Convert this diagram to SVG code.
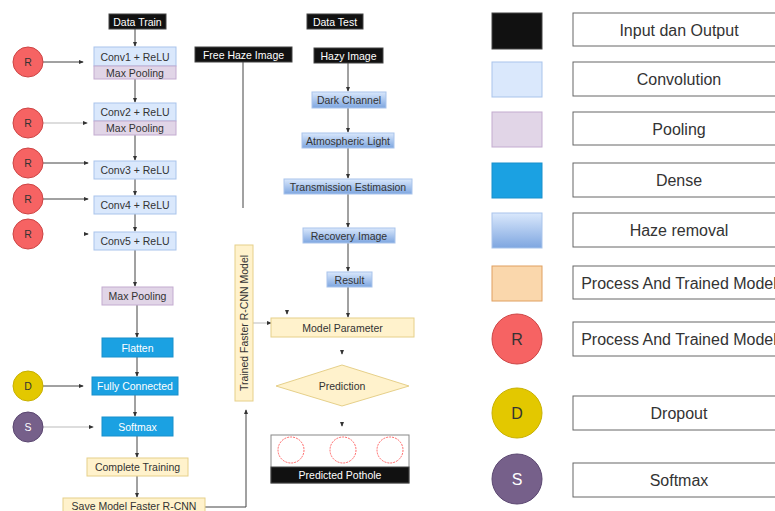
<svg xmlns="http://www.w3.org/2000/svg" width="775" height="511" viewBox="0 0 775 511">
<defs>
<linearGradient id="haze" x1="0" y1="0" x2="0" y2="1"><stop offset="0" stop-color="#dae8fc"/><stop offset="1" stop-color="#7ea6e0"/></linearGradient>
<marker id="ah" viewBox="0 0 6 6" refX="5" refY="3" markerWidth="5" markerHeight="5" orient="auto"><path d="M0,0.5 L6,3 L0,5.5 Z" fill="#333"/></marker>
<style>
text{font-family:"Liberation Sans",Arial,sans-serif;font-size:10.5px;fill:#333;text-anchor:middle;dominant-baseline:central}
.io{fill:#111;stroke:#444;stroke-width:1}
.conv{fill:#dae8fc;stroke:#a9c4eb;stroke-width:1}
.pool{fill:#e1d5e7;stroke:#c3abd0;stroke-width:1}
.dense{fill:#1ba1e2;stroke:#1890cc;stroke-width:1}
.hz{fill:url(#haze);stroke:#a9c4eb;stroke-width:1}
.proc{fill:#fff2cc;stroke:#e6d08a;stroke-width:1}
.r{fill:#f66363;stroke:#c44;stroke-width:1}
.d{fill:#e3c800;stroke:#c8b000;stroke-width:1}
.s{fill:#76608a;stroke:#5a4670;stroke-width:1}
.ln{fill:none;stroke:#444;stroke-width:1}
.lnf{fill:none;stroke:#bbb;stroke-width:1}
.lg{fill:#fff;stroke:#666;stroke-width:1}
.lt{font-size:16px}
.pc{fill:none;stroke:#f44;stroke-width:0.8;stroke-dasharray:2 1}
.wt,.iot{fill:#fff}
</style>
</defs>

<g id="connectors">
<path class="ln" d="M135,29 V46" marker-end="url(#ah)"/>
<path class="ln" d="M135,79 V102" marker-end="url(#ah)"/>
<path class="ln" d="M135,135 V160" marker-end="url(#ah)"/>
<path class="ln" d="M135,179 V195" marker-end="url(#ah)"/>
<path class="ln" d="M135,214 V231" marker-end="url(#ah)"/>
<path class="ln" d="M135,250 V286" marker-end="url(#ah)"/>
<path class="ln" d="M137,305 V337" marker-end="url(#ah)"/>
<path class="ln" d="M137,357 V376" marker-end="url(#ah)"/>
<path class="ln" d="M135,395 V416" marker-end="url(#ah)"/>
<path class="ln" d="M137,436 V457" marker-end="url(#ah)"/>
<path class="ln" d="M137,476 V497" marker-end="url(#ah)"/>
<path class="ln" d="M43,62 H83" marker-end="url(#ah)"/>
<path class="lnf" d="M43,123 H87" marker-end="url(#ah)"/>
<path class="ln" d="M43,163 H88" marker-end="url(#ah)"/>
<path class="ln" d="M43,199 H88" marker-end="url(#ah)"/>
<path class="ln" d="M85,234 H88" marker-end="url(#ah)"/>
<path class="ln" d="M43,386 H83" marker-end="url(#ah)"/>
<path class="lnf" d="M43,427 H93" marker-end="url(#ah)"/>
<path class="ln" d="M205,507 H246 V410" marker-end="url(#ah)"/>
<path class="ln" d="M243,62 V208"/>
<path class="ln" d="M348,63 V91" marker-end="url(#ah)"/>
<path class="ln" d="M348,108 V132" marker-end="url(#ah)"/>
<path class="ln" d="M348,148 V178" marker-end="url(#ah)"/>
<path class="ln" d="M348,194 V227" marker-end="url(#ah)"/>
<path class="ln" d="M348,243 V271" marker-end="url(#ah)"/>
<path class="ln" d="M348,287 V317" marker-end="url(#ah)"/>
<path class="lnf" d="M253,323 H271" marker-end="url(#ah)"/>
<path class="ln" d="M287,311 V314" marker-end="url(#ah)"/>
<path class="ln" d="M342,351 V354" marker-end="url(#ah)"/>
<path class="ln" d="M342,423 V426" marker-end="url(#ah)"/>
</g>

<g id="data-train"><rect class="io" x="109" y="14" width="57" height="15"/><text class="iot" x="137.5" y="21.5">Data Train</text></g>
<g id="conv1"><rect class="conv" x="94" y="47" width="82" height="19"/><text x="135" y="56.5">Conv1 + ReLU</text><rect class="pool" x="94" y="66" width="82" height="13"/><text x="135" y="72.5">Max Pooling</text></g>
<g id="conv2"><rect class="conv" x="94" y="103" width="82" height="18"/><text x="135" y="112">Conv2 + ReLU</text><rect class="pool" x="94" y="121" width="82" height="14"/><text x="135" y="128">Max Pooling</text></g>
<g id="conv3"><rect class="conv" x="94" y="161" width="82" height="18"/><text x="135" y="170">Conv3 + ReLU</text></g>
<g id="conv4"><rect class="conv" x="94" y="196" width="82" height="18"/><text x="135" y="205">Conv4 + ReLU</text></g>
<g id="conv5"><rect class="conv" x="94" y="232" width="82" height="18"/><text x="135" y="241">Conv5 + ReLU</text></g>
<g id="maxpool"><rect class="pool" x="102" y="287" width="71" height="18"/><text x="137.5" y="296">Max Pooling</text></g>
<g id="flatten"><rect class="dense" x="102" y="338" width="71" height="19"/><text class="wt" x="137.5" y="347.5">Flatten</text></g>
<g id="fully-connected"><rect class="dense" x="92" y="377" width="86" height="18"/><text class="wt" x="135" y="386">Fully Connected</text></g>
<g id="softmax"><rect class="dense" x="102" y="417" width="71" height="19"/><text class="wt" x="137.5" y="426.5">Softmax</text></g>
<g id="complete-training"><rect class="proc" x="87" y="458" width="101" height="18"/><text x="137.5" y="467">Complete Training</text></g>
<g id="save-model"><rect class="proc" x="63" y="498" width="142" height="18"/><text x="134" y="506">Save Model Faster R-CNN</text></g>

<g id="r1"><circle class="r" cx="28" cy="62" r="15"/><text x="28" y="62">R</text></g>
<g id="r2"><circle class="r" cx="28" cy="123" r="15"/><text x="28" y="123">R</text></g>
<g id="r3"><circle class="r" cx="28" cy="163" r="15"/><text x="28" y="163">R</text></g>
<g id="r4"><circle class="r" cx="28" cy="199" r="15"/><text x="28" y="199">R</text></g>
<g id="r5"><circle class="r" cx="28" cy="234" r="15"/><text x="28" y="234">R</text></g>
<g id="d1"><circle class="d" cx="28" cy="386" r="15"/><text x="28" y="386">D</text></g>
<g id="s1"><circle class="s" cx="28" cy="427" r="15"/><text class="wt" x="28" y="427">S</text></g>

<g id="free-haze"><rect class="io" x="195" y="47" width="97" height="15"/><text class="iot" x="243.5" y="54.5">Free Haze Image</text></g>
<g id="data-test"><rect class="io" x="307" y="14" width="56" height="15"/><text class="iot" x="335" y="21.5">Data Test</text></g>
<g id="hazy-image"><rect class="io" x="314" y="48" width="69" height="15"/><text class="iot" x="348.5" y="55.5">Hazy Image</text></g>
<g id="dark-channel"><rect class="hz" x="312" y="92" width="74" height="16"/><text x="349" y="100">Dark Channel</text></g>
<g id="atmospheric"><rect class="hz" x="302" y="133" width="92" height="15"/><text x="348" y="140.5">Atmospheric Light</text></g>
<g id="transmission"><rect class="hz" x="284" y="179" width="128" height="15"/><text x="348" y="186.5">Transmission Estimasion</text></g>
<g id="recovery"><rect class="hz" x="303" y="228" width="92" height="15"/><text x="349" y="235.5">Recovery Image</text></g>
<g id="result"><rect class="hz" x="327" y="272" width="45" height="15"/><text x="349.5" y="279.5">Result</text></g>
<g id="model-parameter"><rect class="proc" x="271" y="318" width="143" height="19"/><text x="342.5" y="327.5">Model Parameter</text></g>
<g id="trained-model"><rect class="proc" x="235" y="245" width="18" height="156"/><text transform="translate(244,323) rotate(-90)">Trained Faster R-CNN Model</text></g>
<g id="prediction"><polygon class="proc" points="342,365 409,386 342,406 276,386"/><text x="342" y="386">Prediction</text></g>
<g id="predicted-pothole"><rect fill="#fff" stroke="#888" stroke-width="1" x="271" y="435" width="138" height="48"/><rect class="io" x="271" y="467" width="138" height="16"/><text class="iot" x="340" y="475">Predicted Pothole</text>
<circle class="pc" cx="291" cy="450" r="13"/><circle class="pc" cx="343" cy="450" r="13"/><circle class="pc" cx="390" cy="450" r="13"/></g>

<g id="legend">
<rect class="io" x="492" y="13" width="50" height="36"/>
<rect class="lg" x="573" y="13" width="212" height="33"/><text class="lt" x="679" y="30">Input dan Output</text>
<rect class="conv" x="492" y="62" width="50" height="35"/>
<rect class="lg" x="573" y="62" width="212" height="34"/><text class="lt" x="679" y="79">Convolution</text>
<rect class="pool" x="492" y="112" width="50" height="35"/>
<rect class="lg" x="573" y="112" width="212" height="33"/><text class="lt" x="679" y="129">Pooling</text>
<rect class="dense" x="492" y="163" width="50" height="35"/>
<rect class="lg" x="573" y="163" width="212" height="34"/><text class="lt" x="679" y="180">Dense</text>
<rect class="hz" x="492" y="213" width="50" height="35"/>
<rect class="lg" x="573" y="213" width="212" height="34"/><text class="lt" x="679" y="230">Haze removal</text>
<rect fill="#fad7ac" stroke="#e0a060" stroke-width="1" x="492" y="266" width="50" height="35"/>
<rect class="lg" x="573" y="266" width="212" height="33"/><text class="lt" x="679" y="283">Process And Trained Model</text>
<circle class="r" cx="517" cy="339" r="25"/><text class="lt" x="517" y="339">R</text>
<rect class="lg" x="573" y="322" width="212" height="34"/><text class="lt" x="679" y="339">Process And Trained Model</text>
<circle class="d" cx="517" cy="413" r="25"/><text class="lt" x="517" y="413">D</text>
<rect class="lg" x="573" y="396" width="212" height="34"/><text class="lt" x="679" y="413">Dropout</text>
<circle class="s" cx="517" cy="479" r="25"/><text class="lt" fill="#fff" style="fill:#fff" x="517" y="479">S</text>
<rect class="lg" x="573" y="463" width="212" height="34"/><text class="lt" x="679" y="480">Softmax</text>
</g>
</svg>
